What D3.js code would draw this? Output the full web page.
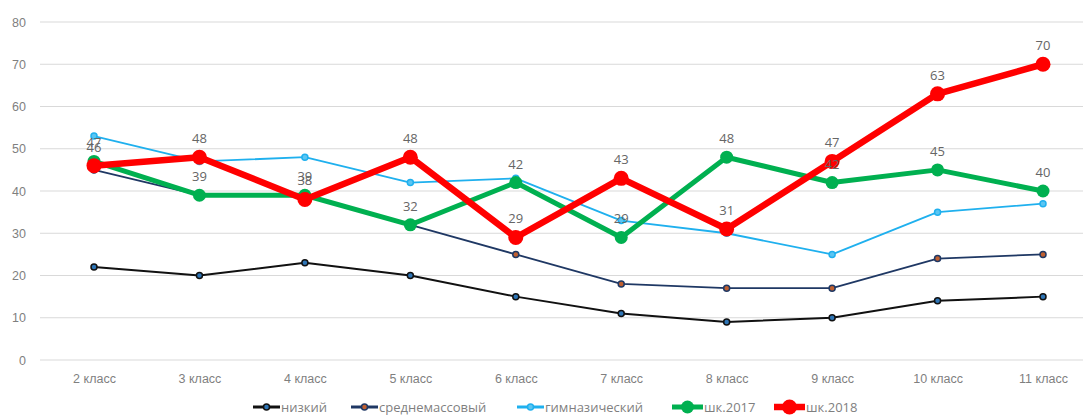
<!DOCTYPE html>
<html><head><meta charset="utf-8">
<script src="https://cdn.jsdelivr.net/npm/d3@7"></script>
<style>body{margin:0;background:#fff;}svg{display:block;font-family:"Open Sans",sans-serif;}</style>
</head><body>
<script>
const categories = ["2 класс","3 класс","4 класс","5 класс","6 класс","7 класс","8 класс","9 класс","10 класс","11 класс"];
const yTicks = [0,10,20,30,40,50,60,70,80];
const nizkiy = [22,20,23,20,15,11,9,10,14,15];
const srednemass = [45,39,39,32,25,18,17,17,24,25];
const gimnaz = [53,47,48,42,43,33,30,25,35,37];
const shk2017 = [47,39,39,32,42,29,48,42,45,40];
const shk2018 = [46,48,38,48,29,43,31,47,63,70];

const series = [
  {name:"низкий", values:nizkiy, color:"#111111", width:2, r:3, fill:"#2E75B6", labels:false},
  {name:"среднемассовый", values:srednemass, color:"#1F3864", width:1.8, r:3, fill:"#C06030", labels:false},
  {name:"гимназический", values:gimnaz, color:"#1FB0EE", width:1.8, r:3, fill:"#5BC5F2", labels:false},
  {name:"шк.2017", values:shk2017, color:"#00B050", width:5, r:6.5, fill:"#00B050", labels:true},
  {name:"шк.2018", values:shk2018, color:"#FF0000", width:6.5, r:7.5, fill:"#FF0000", labels:true}
];

const W=1083,H=415;
const svg=d3.select("body").append("svg").attr("width",W).attr("height",H);
const x=d3.scalePoint().domain(categories).range([94,1043]);
const y=d3.scaleLinear().domain([0,80]).range([360,22]);

const grid=svg.append("g");
grid.selectAll("line").data(yTicks).join("line")
  .attr("x1",40).attr("x2",W).attr("y1",d=>y(d)).attr("y2",d=>y(d))
  .attr("stroke","#d9d9d9").attr("stroke-width",1);

const yAxis=svg.append("g").attr("transform","translate(26,0)")
  .call(d3.axisLeft(y).tickValues(yTicks).tickSize(0).tickPadding(0));
yAxis.select(".domain").remove();
yAxis.selectAll("text").attr("fill","#7f7f7f").attr("font-size",12.5).attr("text-anchor","end");

const xAxis=svg.append("g").attr("transform","translate(0,374)")
  .call(d3.axisBottom(x).tickSize(0).tickPadding(0));
xAxis.select(".domain").remove();
xAxis.selectAll("text").attr("fill","#7f7f7f").attr("font-size",12.5);

const line=d3.line().x((d,i)=>x(categories[i])).y(d=>y(d));
series.forEach(s=>{
  const g=svg.append("g");
  g.append("path").datum(s.values).attr("d",line).attr("fill","none")
    .attr("stroke",s.color).attr("stroke-width",s.width).attr("stroke-linejoin","round");
  g.selectAll("circle").data(s.values).join("circle")
    .attr("cx",(d,i)=>x(categories[i])).attr("cy",d=>y(d)).attr("r",s.r)
    .attr("fill",s.fill).attr("stroke",s.color).attr("stroke-width",s.labels?0:1.5);
});
series.filter(s=>s.labels).forEach(s=>{
  svg.append("g").selectAll("text").data(s.values).join("text")
    .attr("x",(d,i)=>x(categories[i])).attr("y",d=>y(d)-14)
    .attr("text-anchor","middle").attr("fill","#666666").attr("font-size",13)
    .text(d=>d);
});

// legend
const legendX=[253,351,517,672,774];
const lg=svg.append("g").attr("transform","translate(0,407)");
series.forEach((s,i)=>{
  const g=lg.append("g").attr("transform",`translate(${legendX[i]},0)`);
  const lw = s.labels ? 31 : 27;
  g.append("line").attr("x1",0).attr("x2",lw).attr("y1",0).attr("y2",0)
    .attr("stroke",s.color).attr("stroke-width",s.labels?s.width:3);
  g.append("circle").attr("cx",lw/2).attr("cy",0).attr("r",s.r)
    .attr("fill",s.fill).attr("stroke",s.color).attr("stroke-width",s.labels?0:1.5);
  g.append("text").attr("x",lw+1).attr("y",4.5).attr("fill","#7f7f7f").attr("font-size",13).text(s.name);
});
</script>
</body></html>
